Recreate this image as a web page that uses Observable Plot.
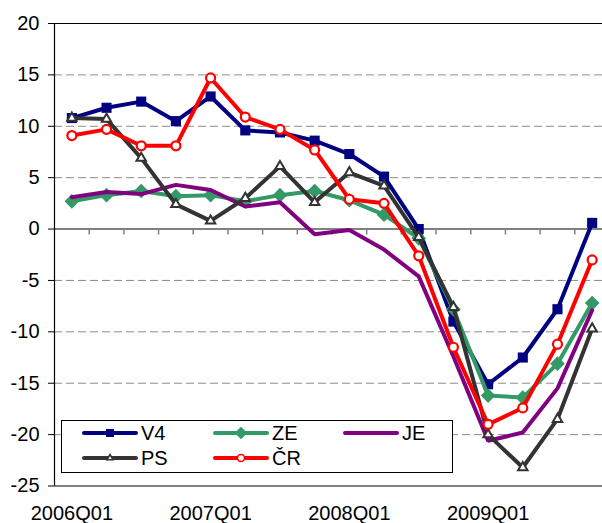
<!DOCTYPE html>
<html>
<head>
<meta charset="utf-8">
<script src="https://cdn.jsdelivr.net/npm/d3@7"></script>
<script src="https://cdn.jsdelivr.net/npm/@observablehq/plot@0.6"></script>
<style>
  body { margin: 0; background: #fff; }
  #wrap { position: relative; width: 602px; height: 523px; overflow: hidden; font-family: "Liberation Sans", Arial, sans-serif; }
  #legend { position: absolute; left: 61px; top: 420px; width: 390px; height: 51px; border: 1px solid #000; background: #fff; }
  .item { position: absolute; display: flex; align-items: center; height: 24px; font-size: 20px; color: #000; }
  .item span { margin-left: 3px; }
</style>
</head>
<body>
<div id="wrap"><div id="legend"></div></div>
<script>
// ---- data ----
const quarters = ["2006Q01","2006Q02","2006Q03","2006Q04","2007Q01","2007Q02","2007Q03","2007Q04",
                  "2008Q01","2008Q02","2008Q03","2008Q04","2009Q01","2009Q02","2009Q03","2009Q04"];
const xTickLabels = ["2006Q01","2007Q01","2008Q01","2009Q01"];
const yTicks = [20, 15, 10, 5, 0, -5, -10, -15, -20, -25];

const V4 = [10.8, 11.8, 12.4, 10.5, 12.9, 9.6, 9.4, 8.6, 7.3, 5.1, 0.0, -9.0, -15.1, -12.5, -7.8, 0.6];
const ZE = [2.7, 3.3, 3.7, 3.2, 3.3, 2.7, 3.3, 3.7, 2.8, 1.4, -0.9, -7.8, -16.2, -16.4, -13.1, -7.2];
const JE = [3.1, 3.6, 3.4, 4.3, 3.8, 2.2, 2.6, -0.5, -0.1, -2.0, -4.6, -12.4, -20.6, -19.8, -15.5, -7.9];
const PS = [10.8, 10.7, 6.9, 2.4, 0.8, 3.0, 6.1, 2.6, 5.5, 4.2, -0.8, -7.6, -20.0, -23.2, -18.5, -9.7];
const CR = [9.1, 9.7, 8.1, 8.1, 14.7, 10.9, 9.7, 7.7, 2.9, 2.5, -2.6, -11.5, -19.0, -17.4, -11.2, -3.0];

const seriesNames  = ["V4", "ZE", "JE", "PS", "ČR"];
const seriesValues = [V4, ZE, JE, PS, CR];

// ---- styles ----
const seriesColors = ["#000080", "#339966", "#800080", "#333333", "#ff0000"];
const diamond2 = d3.symbolDiamond2 || { draw(c, size) { const r = Math.sqrt(size) * 0.62625; c.moveTo(0,-r); c.lineTo(r,0); c.lineTo(0,r); c.lineTo(-r,0); c.closePath(); } };
const seriesSymbols = [d3.symbolSquare, diamond2, null, d3.symbolTriangle, d3.symbolCircle];
const seriesFill = ["#000080", "#339966", null, "#ffffff", "#ffffff"];
const seriesR = [5.7, 6.6, 0, 3.5, 4.5];
const seriesMarkerStroke = [0, 0, 0, 2, 2.2];

const rows = seriesNames.map((name, s) =>
  seriesValues[s].map((v, i) => ({series: name, q: quarters[i], pos: i + 0.5, value: v})));

const bounds = d3.range(1, quarters.length);
const gridVals = yTicks.filter(v => v !== 0 && v !== 20 && v !== -25);
const tickPos = xTickLabels.map(l => quarters.indexOf(l) + 0.5);

const marks = [
  Plot.ruleY(gridVals, {stroke: "#8c8c8c", strokeWidth: 1, strokeDasharray: "8,4"}),
  Plot.ruleY([0], {stroke: "#808080", strokeWidth: 2}),
  Plot.ruleX(bounds, {x: d => d, y1: 0, y2: 0, insetBottom: -6, stroke: "#808080", strokeWidth: 1.5}),
  Plot.ruleY([yTicks[0], yTicks[yTicks.length - 1]], {stroke: "#000", strokeWidth: 1.2}),
  Plot.ruleX([0], {stroke: "#000", strokeWidth: 1.2}),
  Plot.axisY(yTicks, {anchor: "left", label: null, tickSize: 6, tickPadding: 9, stroke: "#000", fontSize: 20, tickFormat: d => String(d)}),
  Plot.axisX(tickPos, {anchor: "bottom", label: null, tickSize: 0, tickPadding: 20, fontSize: 20, tickFormat: d => quarters[d - 0.5]})
];

seriesNames.forEach((name, s) => {
  marks.push(Plot.line(rows[s], {x: "pos", y: "value", stroke: seriesColors[s], strokeWidth: 4, strokeLinejoin: "miter"}));
  if (seriesSymbols[s]) {
    marks.push(Plot.dot(rows[s], {
      x: "pos", y: "value", symbol: seriesSymbols[s], r: seriesR[s],
      fill: seriesFill[s],
      stroke: seriesMarkerStroke[s] ? seriesColors[s] : "none",
      strokeWidth: seriesMarkerStroke[s]
    }));
  }
});

const chart = Plot.plot({
  width: 602,
  height: 523,
  marginLeft: 54,
  marginRight: -7,
  marginTop: 23,
  marginBottom: 37.5,
  x: {type: "linear", domain: [0, quarters.length], label: null},
  y: {type: "linear", domain: [yTicks[yTicks.length - 1], yTicks[0]], label: null},
  style: {fontFamily: "'Liberation Sans', Arial, sans-serif", fontSize: "20px", color: "#000", background: "#fff", overflow: "hidden"},
  marks
});
document.getElementById("wrap").prepend(chart);

// ---- legend ----
const legendPos = [[20, 0], [151, 0], [281, 0], [20, 25], [151, 25]];
const legend = document.getElementById("legend");
seriesNames.forEach((name, s) => {
  const item = document.createElement("div");
  item.className = "item";
  item.style.left = legendPos[s][0] + "px";
  item.style.top = legendPos[s][1] + "px";
  const svg = d3.create("svg").attr("width", 56).attr("height", 24);
  svg.append("line").attr("x1", 2).attr("x2", 54).attr("y1", 12).attr("y2", 12)
    .attr("stroke", seriesColors[s]).attr("stroke-width", 4).attr("stroke-linecap", "round");
  if (seriesSymbols[s]) {
    const small = [64, 100, 0, 16, 40][s];
    svg.append("path").attr("transform", "translate(28,12)")
      .attr("d", d3.symbol(seriesSymbols[s], small)())
      .attr("fill", seriesFill[s])
      .attr("stroke", seriesMarkerStroke[s] ? seriesColors[s] : "none")
      .attr("stroke-width", seriesMarkerStroke[s] ? 1.6 : 0);
  }
  item.appendChild(svg.node());
  const label = document.createElement("span");
  label.textContent = name;
  item.appendChild(label);
  legend.appendChild(item);
});
</script>
</body>
</html>
